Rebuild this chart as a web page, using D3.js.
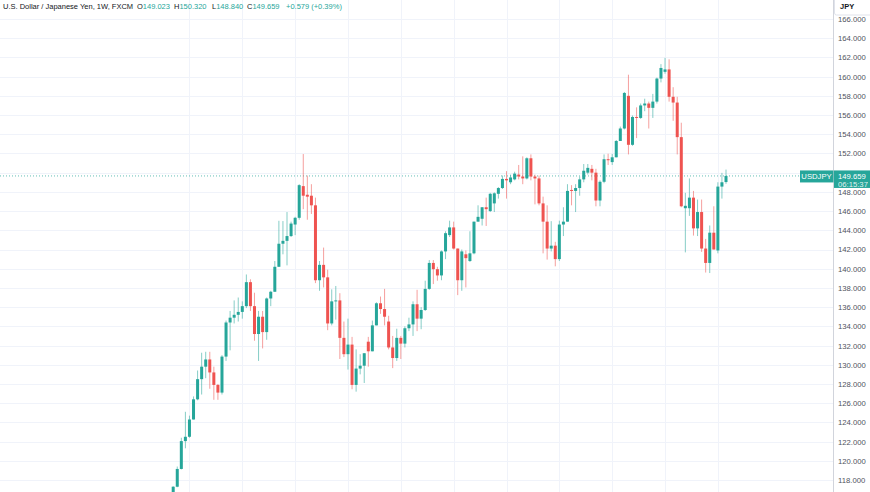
<!DOCTYPE html>
<html><head><meta charset="utf-8">
<script src="https://cdn.jsdelivr.net/npm/d3@7"></script>
<style>html,body{margin:0;padding:0;background:#fff;overflow:hidden}svg{display:block}</style>
</head><body>
<svg id="c" width="870" height="492"></svg>
<script>
// Weekly USD/JPY candles, first week = 2022-03-07
const weeks = d3.range(137).map(i => d3.timeWeek.offset(new Date(2022, 2, 7), i));
const open = [114.8,117.3,119.15,122.05,122.5,124.3,126.4,128.5,129.8,130.55,129.2,127.9,127.1,130.85,134.4,134.9,135.2,135.5,136.1,138.6,136.1,133.2,135.0,133.4,136.9,137.6,140.2,142.6,142.9,143.4,144.6,145.3,148.6,147.7,147.6,146.6,138.8,140.4,139.1,134.3,136.6,136.7,132.8,131.1,132.1,127.9,129.6,129.9,132.4,131.4,134.1,136.4,135.8,134.5,131.8,130.7,132.8,132.2,133.8,134.2,136.3,134.8,135.7,137.9,140.6,139.95,139.3,141.8,143.5,144.3,142.1,138.8,141.5,140.8,141.6,144.9,145.2,146.4,146.0,146.8,147.8,148.4,149.35,149.0,149.3,149.8,149.6,149.4,151.5,149.6,149.4,146.8,144.9,142.1,142.4,141.0,144.6,144.9,148.2,148.1,148.4,149.3,150.0,150.4,150.0,147.1,149.05,151.4,151.1,151.6,153.3,154.6,158.0,152.9,155.8,155.7,157.0,157.2,156.75,157.4,159.8,160.5,160.75,157.9,157.3,153.7,146.3,146.3,147.4,144.2,145.9,142.1,140.6,143.75,141.9,148.55,149.023];
const high = [117.35,119.4,122.4,125.1,124.7,126.7,129.4,131.25,131.35,131.35,129.8,128.0,131.0,134.6,135.6,136.7,137.0,136.6,139.4,138.9,137.5,135.6,135.6,137.0,137.7,140.8,144.99,144.96,145.9,144.9,145.4,148.8,151.94,149.7,148.8,147.4,140.8,142.2,139.9,137.85,138.2,137.45,134.5,134.8,132.9,131.6,131.1,131.2,132.9,134.6,136.5,137.1,137.9,135.1,133.0,133.75,133.0,134.0,134.9,136.6,137.8,136.0,138.75,140.9,140.9,140.2,141.9,143.9,145.0,144.9,142.1,142.0,141.9,143.9,144.9,146.6,146.4,147.4,147.9,147.95,148.5,149.7,150.16,149.8,150.1,150.8,151.7,151.6,151.9,149.8,149.7,147.5,146.6,144.95,142.8,145.0,146.4,148.8,148.7,148.8,149.6,150.9,150.9,150.8,150.4,149.2,151.9,151.97,151.95,153.4,154.8,158.4,160.2,155.95,156.8,157.2,157.7,157.4,158.2,159.9,161.3,161.95,161.8,158.9,157.9,155.2,147.9,149.4,148.1,147.2,147.2,143.1,144.5,146.5,149.0,149.98,150.32];
const low = [114.6,117.25,119.1,121.3,122.4,124.3,126.3,126.9,128.6,127.5,126.35,126.35,126.9,130.4,131.5,134.3,134.5,134.8,135.9,135.6,132.5,130.4,131.7,132.6,136.1,137.6,140.2,141.5,140.35,143.3,143.5,145.1,146.2,145.1,145.7,138.5,137.7,138.05,133.6,134.1,134.7,130.6,130.8,129.5,127.45,127.2,129.0,128.1,129.8,131.4,134.1,135.3,134.1,131.6,129.65,130.4,130.6,131.8,133.5,133.0,133.5,133.7,135.6,137.8,138.4,138.75,138.8,141.0,143.3,142.0,137.25,137.7,138.05,140.7,141.5,144.9,144.5,144.45,145.9,145.9,147.3,148.3,147.3,148.8,149.2,149.3,148.8,149.3,149.2,146.7,146.6,141.6,140.95,141.8,140.25,140.8,143.4,144.9,146.6,145.9,147.6,149.0,149.8,149.2,146.5,146.5,148.9,150.8,150.8,151.6,153.3,154.5,151.9,152.8,153.6,155.6,156.4,154.6,155.7,157.2,159.4,160.3,157.4,155.4,151.9,146.4,141.7,145.5,143.45,143.4,141.75,139.6,139.55,142.0,141.6,147.3,148.84];
const close = [117.3,119.15,122.05,122.5,124.3,126.4,128.5,129.8,130.55,129.2,127.9,127.1,130.85,134.4,134.9,135.2,135.5,136.1,138.6,136.1,133.2,135.0,133.4,136.9,137.6,140.2,142.6,142.9,143.4,144.7,145.3,148.7,147.6,147.5,146.6,138.8,140.4,139.1,134.3,136.6,136.7,132.8,131.1,132.1,127.9,129.6,129.9,131.2,131.4,134.1,136.4,135.8,135.0,131.8,130.7,132.8,132.2,133.8,134.2,136.3,134.8,135.7,137.9,140.6,139.95,139.3,141.8,143.7,144.3,142.1,138.8,141.8,141.1,141.6,144.9,145.4,146.4,146.2,147.8,147.85,148.4,149.35,149.2,149.5,149.9,149.6,149.4,151.5,149.6,149.4,146.8,144.9,142.1,142.4,141.0,144.6,144.9,148.1,148.1,148.4,149.3,150.2,150.5,150.0,147.1,149.05,151.4,151.3,151.6,153.3,154.6,158.3,152.9,155.8,155.7,157.0,157.2,156.75,157.4,159.8,160.9,160.75,157.9,157.3,153.7,146.5,146.55,147.4,144.2,145.9,142.1,140.6,143.75,142.0,148.55,149.0,149.659];
const priceTicks = d3.range(118, 167, 2);
const quarterStarts = [4,17,30,43,56,69,82,95,108,121,134];
const title = "U.S. Dollar / Japanese Yen, 1W, FXCM";
const ohlcLabels = [["O","149.023",137],["H","150.320",174],["L","148.840",212],["C","149.659",247]];
const changeText = "+0.579 (+0.39%)";
const lastPrice = 149.659;
const countdown = "06:15:37";
const symbol = "USDJPY";
const currency = "JPY";

const UP = "#26a69a", DOWN = "#ef5350", GRID = "#f0f3fa";
const FONT = "'Liberation Sans', Arial, sans-serif";
const svg = d3.select("#c");
const W = 870, H = 492, axisX = 833.5;

const x = d3.scaleLinear().domain([0, 136]).range([173.2, 726]);
const y = d3.scaleLinear().domain([118, 166]).range([480, 19]);
const py = y(lastPrice);
const boxTop = py - 5.5, boxH = 17.5;

// grid
const g = svg.append("g");
g.selectAll("line.h").data(priceTicks).join("line")
  .attr("x1", 0).attr("x2", axisX).attr("y1", d => Math.round(y(d)) + 0.5).attr("y2", d => Math.round(y(d)) + 0.5)
  .attr("stroke", GRID).attr("stroke-width", 1);
g.selectAll("line.v").data(quarterStarts).join("line")
  .attr("x1", d => Math.round(x(d)) + 0.5).attr("x2", d => Math.round(x(d)) + 0.5).attr("y1", 0).attr("y2", H)
  .attr("stroke", GRID).attr("stroke-width", 1);

// last price dotted line
svg.append("line").attr("x1", 0).attr("x2", 800).attr("y1", py).attr("y2", py)
  .attr("stroke", UP).attr("stroke-width", 1).attr("stroke-dasharray", "1,2").attr("opacity", 0.7);

// candles
const data = weeks.map((d, i) => ({i, o: open[i], h: high[i], l: low[i], c: close[i]}));
const cg = svg.append("g");
cg.selectAll("line.wick").data(data).join("line")
  .attr("x1", d => x(d.i)).attr("x2", d => x(d.i)).attr("y1", d => y(d.h)).attr("y2", d => y(d.l))
  .attr("stroke", d => d.c >= d.o ? UP : DOWN).attr("stroke-width", 1).attr("opacity", 0.55);
cg.selectAll("rect.body").data(data).join("rect")
  .attr("x", d => x(d.i) - 1.5).attr("width", 3)
  .attr("y", d => y(Math.max(d.o, d.c)))
  .attr("height", d => Math.max(1, Math.abs(y(d.o) - y(d.c))))
  .attr("fill", d => d.c >= d.o ? UP : DOWN);

// axis panel
svg.append("rect").attr("x", axisX).attr("y", 0).attr("width", W - axisX).attr("height", H).attr("fill", "#fff");
svg.append("line").attr("x1", axisX).attr("x2", axisX).attr("y1", 0).attr("y2", H).attr("stroke", "#d1d4dc");
// the label fully hidden behind the last-price box is not drawn
const visibleTicks = priceTicks.filter(d => y(d) + 4 < boxTop || y(d) - 3 > boxTop + boxH);
const yAxis = d3.axisRight(y).tickValues(visibleTicks).tickSize(0).tickPadding(0).tickFormat(d3.format(".3f"));
const ax = svg.append("g").attr("transform", `translate(838,0)`).call(yAxis);
ax.select(".domain").remove();
ax.selectAll("text").attr("fill", "#50535e").attr("font-family", FONT).attr("font-size", 7.7).attr("x", 0).attr("dy", "0.32em");

// currency box
svg.append("rect").attr("x", axisX + 1).attr("y", -3).attr("width", 40).attr("height", 18).attr("rx", 2)
  .attr("fill", "#fff").attr("stroke", "#e0e3eb");
svg.append("text").attr("x", 840).attr("y", 9).text(currency).attr("font-family", FONT).attr("font-size", 7.5)
  .attr("font-weight", "bold").attr("fill", "#131722");

// price label
svg.append("rect").attr("x", 800).attr("y", boxTop).attr("width", 33.5).attr("height", 12).attr("fill", UP);
svg.append("text").attr("x", 816.5).attr("y", py + 3).attr("text-anchor", "middle").text(symbol)
  .attr("font-family", FONT).attr("font-size", 7.7).attr("fill", "#fff");
svg.append("rect").attr("x", axisX + 0.5).attr("y", boxTop).attr("width", W - axisX).attr("height", boxH).attr("fill", UP);
svg.append("text").attr("x", 838).attr("y", py + 3).text(d3.format(".3f")(lastPrice))
  .attr("font-family", FONT).attr("font-size", 7.7).attr("fill", "#fff");
svg.append("text").attr("x", 838).attr("y", py + 11.2).text(countdown)
  .attr("font-family", FONT).attr("font-size", 7.7).attr("fill", "#fff").attr("opacity", 0.85);

// header
const hdr = svg.append("g").attr("font-family", FONT).attr("font-size", 7.5);
hdr.append("text").attr("x", 3).attr("y", 9).text(title).attr("fill", "#131722");
ohlcLabels.forEach(([k, v, px]) => {
  const t = hdr.append("text").attr("x", px).attr("y", 9);
  t.append("tspan").text(k).attr("fill", "#131722");
  t.append("tspan").text(v).attr("fill", UP);
});
hdr.append("text").attr("x", 286).attr("y", 9).text(changeText).attr("fill", UP);
</script>
</body></html>
